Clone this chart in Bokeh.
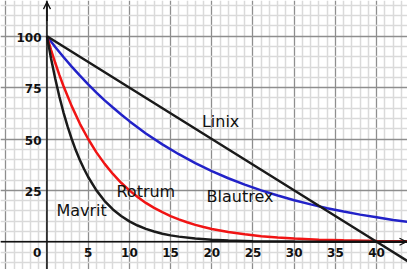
from bokeh.plotting import figure
from bokeh.models import FixedTicker, Span, Arrow, OpenHead
from bokeh.core.properties import value
from bokeh.embed import file_html
from bokeh.resources import INLINE

# --- data ---
mavrit_t = [0, 0.5, 1, 1.5, 2, 2.5, 3, 3.5, 4, 4.5, 5, 6, 7, 8, 9, 10, 11, 12, 13, 14, 15, 16, 18, 20, 22, 25, 30, 35, 40, 44]
mavrit_c = [100, 89.1, 79.4, 70.7, 63.0, 56.1, 50.0, 44.5, 39.7, 35.4, 31.5, 25.0, 19.8, 15.7, 12.5, 9.9, 7.9, 6.25, 5.0, 3.9, 3.1, 2.5, 1.6, 1.0, 0.6, 0.3, 0.1, 0.03, 0.01, 0.0]

rotrum_t = [0, 0.5, 1, 1.5, 2, 3, 4, 5, 6, 7, 8, 9, 10, 11, 12, 13, 14, 15, 16, 17, 18, 19, 20, 22, 24, 26, 28, 30, 33, 36, 40, 44]
rotrum_c = [100, 93.3, 87.1, 81.2, 75.8, 66.0, 57.4, 50.0, 43.5, 37.9, 33.0, 28.7, 25.0, 21.8, 18.9, 16.5, 14.4, 12.5, 10.9, 9.5, 8.2, 7.2, 6.25, 4.7, 3.6, 2.7, 2.06, 1.56, 1.0, 0.68, 0.39, 0.22]

blautrex_t = [0, 1, 2, 3, 4, 5, 6, 7, 8, 9, 10, 12, 14, 16, 18, 20, 22, 24, 26, 28, 30, 32, 34, 36, 38, 40, 42, 44]
blautrex_c = [100, 94.8, 89.9, 85.2, 80.8, 76.6, 72.6, 68.8, 65.3, 61.9, 58.7, 52.7, 47.4, 42.6, 38.3, 34.4, 30.9, 27.8, 25.0, 22.5, 20.2, 18.2, 16.3, 14.7, 13.2, 11.9, 10.6, 9.6]

linix_t = [0, 40, 44]
linix_c = [100, 0, -10]

x_tick_values = [5, 10, 15, 20, 25, 30, 35, 40]
x_tick_labels = ["5", "10", "15", "20", "25", "30", "35", "40"]
y_tick_values = [25, 50, 75, 100]
y_tick_labels = ["25", "50", "75", "100"]

series_names = ["Linix", "Mavrit", "Rotrum", "Blautrex"]
name_x = [18.8, 1.15, 8.43, 19.36]
name_y = [58.7, 15.4, 24.6, 22.0]

X0, X1 = -5.64, 43.75
Y0, Y1 = -13.5, 117.4

p = figure(width=407, height=269, x_range=(X0, X1), y_range=(Y0, Y1),
           output_backend="svg", toolbar_location=None, min_border=0)
p.outline_line_color = None
p.xaxis.visible = False
p.yaxis.visible = False
p.background_fill_color = "white"

xmaj = list(range(-5, 45, 5))
xmin = [v for v in range(-5, 45) if v % 5 != 0]
ymaj = list(range(-25, 126, 25))
ymin = [v for v in range(-15, 120, 5) if v % 25 != 0]

p.xgrid.ticker = FixedTicker(ticks=xmaj, minor_ticks=xmin)
p.ygrid.ticker = FixedTicker(ticks=ymaj, minor_ticks=ymin)
for g in (p.xgrid, p.ygrid):
    g.grid_line_color = "#8e8e8e"
    g.grid_line_width = 1.3
    g.minor_grid_line_color = "#dadada"
    g.minor_grid_line_width = 1.5

# axes lines
p.add_layout(Span(location=0, dimension="width", line_color="#111111", line_width=1.5))
p.add_layout(Span(location=0, dimension="height", line_color="#111111", line_width=1.5))
p.add_layout(Arrow(end=OpenHead(size=7, line_width=1.3, line_color="#111111"),
                   x_start=0, y_start=Y1 - 10, x_end=0, y_end=Y1 - 0.8,
                   line_color="#111111", line_width=1.5))
p.add_layout(Arrow(end=OpenHead(size=7, line_width=1.3, line_color="#111111"),
                   x_start=X1 - 3, y_start=0, x_end=X1 - 0.12, y_end=0,
                   line_color="#111111", line_width=1.5))

# curves
p.line(blautrex_t, blautrex_c, line_color="#2222c8", line_width=2.5)
p.line(rotrum_t, rotrum_c, line_color="#f01414", line_width=2.5)
p.line(mavrit_t, mavrit_c, line_color="#1a1a1a", line_width=2.5)
p.line(linix_t, linix_c, line_color="#1a1a1a", line_width=2.5)

font = value("DejaVu Sans")
# tick labels
p.text(x=x_tick_values, y=[0] * len(x_tick_values), text=x_tick_labels,
       text_font=font, text_font_size="12px", text_font_style="bold",
       text_align="center", text_baseline="alphabetic", y_offset=10.5, text_color="#111111")
p.text(x=[0] * len(y_tick_values), y=y_tick_values, text=y_tick_labels,
       text_font=font, text_font_size="12px", text_font_style="bold",
       text_align="right", text_baseline="alphabetic", x_offset=-5.5, y_offset=1, text_color="#111111")
p.text(x=[0], y=[0], text=["0"],
       text_font=font, text_font_size="12px", text_font_style="bold",
       text_align="center", text_baseline="alphabetic", x_offset=-9.7, y_offset=10.5, text_color="#111111")

# series names
p.text(x=name_x, y=name_y, text=series_names, text_font=font, text_font_size="16px",
       text_align="left", text_baseline="alphabetic", text_color="#111111")

open("out.html", "w").write(file_html(p, INLINE))
